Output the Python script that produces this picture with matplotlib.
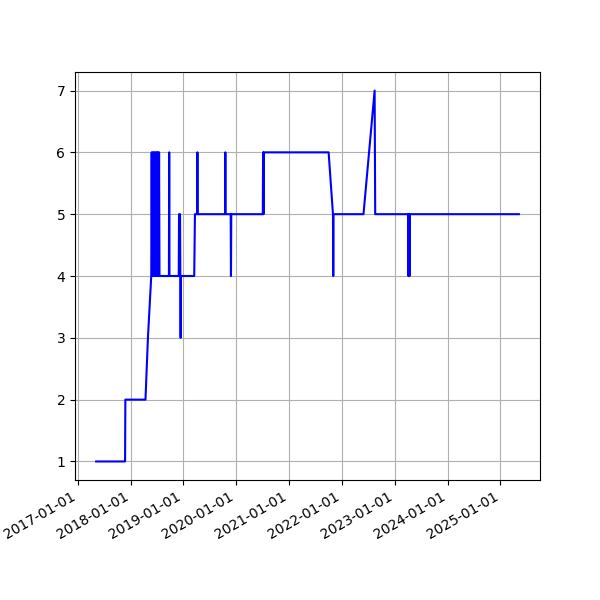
import matplotlib
matplotlib.use("Agg")
import matplotlib.pyplot as plt
import matplotlib.dates as mdates
import pandas as pd

dates = [
    "2017-05-08", "2017-11-24", "2017-11-26", "2018-04-14", "2018-05-01", "2018-05-24",
    "2018-05-27", "2018-05-30", "2018-06-03", "2018-06-07", "2018-06-11", "2018-06-14",
    "2018-06-18", "2018-06-22", "2018-06-26", "2018-06-29", "2018-07-03", "2018-07-06",
    "2018-07-10", "2018-07-13", "2018-07-17", "2018-07-20",
    "2018-09-23", "2018-09-25", "2018-09-27",
    "2018-11-30", "2018-12-02", "2018-12-09", "2018-12-13", "2018-12-15",
    "2019-03-17", "2019-03-22", "2019-04-06", "2019-04-08", "2019-04-10",
    "2019-10-16", "2019-10-18", "2019-10-20",
    "2019-11-24", "2019-11-26", "2019-11-28",
    "2020-07-03", "2020-07-05", "2020-07-08", "2020-07-10",
    "2021-10-01", "2021-10-31", "2021-11-02", "2021-11-04",
    "2022-05-30", "2022-08-15", "2022-08-19",
    "2023-04-04", "2023-04-05", "2023-04-07", "2023-04-09", "2023-04-11", "2023-04-13",
    "2023-04-15",
    "2025-05-08",
]
values = [
    1, 1, 2, 2, 3, 4,
    6, 4, 6, 4, 6, 4,
    6, 4, 6, 4, 6, 4,
    6, 4, 6, 4,
    4, 6, 4,
    4, 5, 5, 3, 4,
    4, 5, 5, 6, 5,
    5, 6, 5,
    5, 4, 5,
    5, 6, 5, 6,
    6, 5, 4, 5,
    5, 7, 5,
    5, 4, 5, 4, 5, 4,
    5,
    5,
]

x = pd.to_datetime(dates)

fig, ax = plt.subplots(figsize=(6, 6), dpi=100)
ax.plot(x, values, color="blue")
ax.xaxis.set_major_locator(mdates.YearLocator())
ax.xaxis.set_major_formatter(mdates.DateFormatter("%Y-%m-%d"))
ax.grid(True)
fig.autofmt_xdate()
fig.savefig("out.png")
